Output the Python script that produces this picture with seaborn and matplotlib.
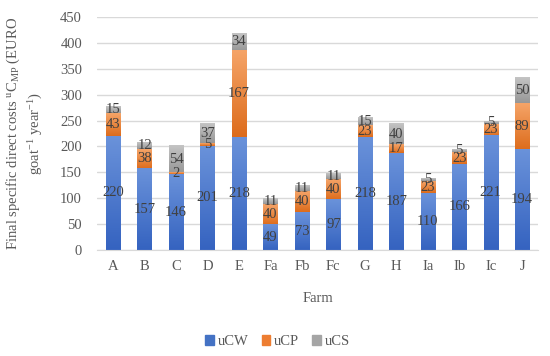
import numpy as np
import pandas as pd
import matplotlib
matplotlib.use("Agg")
import matplotlib.pyplot as plt
import seaborn as sns
from matplotlib.patches import Patch
from matplotlib.colors import LinearSegmentedColormap

# Datos por granja
farms = ["A", "B", "C", "D", "E", "Fa", "Fb", "Fc", "G", "H", "Ia", "Ib", "Ic", "J"]
ucw = [220, 157, 146, 201, 218, 49, 73, 97, 218, 187, 110, 166, 221, 194]
ucp = [43, 38, 2, 5, 167, 40, 40, 40, 23, 17, 23, 23, 23, 89]
ucs = [15, 12, 54, 37, 34, 11, 11, 11, 15, 40, 5, 5, 5, 50]

df = pd.DataFrame({"farm": farms, "uCW": ucw, "uCP": ucp, "uCS": ucs})
df["cwcp"] = df["uCW"] + df["uCP"]
df["total"] = df["cwcp"] + df["uCS"]

sns.set_style("white")
plt.rcParams["font.family"] = ["Liberation Serif", "DejaVu Serif"]
plt.rcParams["mathtext.fontset"] = "custom"
plt.rcParams["mathtext.rm"] = "Liberation Serif"
plt.rcParams["mathtext.it"] = "Liberation Serif"

c_blue, c_orange, c_gray = "#4472C4", "#ED7D31", "#A5A5A5"
# degradados (oscuro abajo, claro arriba)
grad = {
    c_blue: ["#3563C0", "#6A92DA"],
    c_orange: ["#DD6C1C", "#F5A468"],
    c_gray: ["#979797", "#C4C4C4"],
}
fs = 10.5

fig = plt.figure(figsize=(5.5, 3.56), dpi=100)
ax = fig.add_axes([0.177, 0.298, 0.801, 0.654])

# barras apiladas: se dibuja el total y encima las sumas parciales
layers = [("total", "cwcp", c_gray), ("cwcp", "uCW", c_orange), ("uCW", None, c_blue)]
for col, below, c in layers:
    sns.barplot(data=df, x="farm", y=col, color=c, width=0.45, saturation=1,
                linewidth=0, ax=ax, zorder=2)

# relleno en degradado sobre cada segmento visible
n = len(farms)
gimg = np.linspace(0, 1, 100).reshape(-1, 1)
for k, (col, below, c) in enumerate(layers):
    cmap = LinearSegmentedColormap.from_list(col, grad[c])
    for i in range(n):
        p = ax.patches[k * n + i]
        lo = df[below].iloc[i] if below else 0
        hi = df[col].iloc[i]
        ax.imshow(gimg, cmap=cmap, origin="lower", aspect="auto", zorder=2.5,
                  extent=[p.get_x(), p.get_x() + p.get_width(), lo, hi])

# etiquetas de valores
for i, row in df.iterrows():
    ax.text(i, row["uCW"] / 2, str(row["uCW"]), ha="center", va="center", fontsize=fs, color="#404040", zorder=3)
    ax.text(i, row["uCW"] + row["uCP"] / 2, str(row["uCP"]), ha="center", va="center", fontsize=fs, color="#404040", zorder=3)
    ax.text(i, row["cwcp"] + row["uCS"] / 2, str(row["uCS"]), ha="center", va="center", fontsize=fs, color="#404040", zorder=3)

ax.set_ylim(0, 450)
ax.set_yticks(range(0, 451, 50))
ax.set_xlim(-0.5, n - 0.5)
ax.yaxis.grid(True, color="#D9D9D9", linewidth=1, zorder=0)
ax.set_axisbelow(True)
for s in ["top", "right", "left"]:
    ax.spines[s].set_visible(False)
ax.spines["bottom"].set_color("#D9D9D9")
ax.tick_params(axis="both", length=0, labelsize=fs, colors="#595959")
ax.tick_params(axis="y", pad=11)
ax.tick_params(axis="x", pad=7)

ax.set_xlabel("Farm", fontsize=fs, color="#595959", labelpad=14)
ax.set_ylabel("Final specific direct costs $^{u}$C$_{MP}$ (EURO\ngoat$^{-1}$ year$^{-1}$)",
              fontsize=fs, color="#595959", linespacing=1.4)
ax.yaxis.set_label_coords(-0.118, 0.5)

handles = [Patch(color=c_blue, label="uCW"), Patch(color=c_orange, label="uCP"), Patch(color=c_gray, label="uCS")]
fig.legend(handles=handles, loc="lower center", bbox_to_anchor=(0.505, -0.015), ncol=3, frameon=False,
           fontsize=fs, handlelength=0.6, handleheight=0.6, handletextpad=0.25, columnspacing=0.9,
           labelcolor="#595959")

plt.savefig("out.png", dpi=100)
